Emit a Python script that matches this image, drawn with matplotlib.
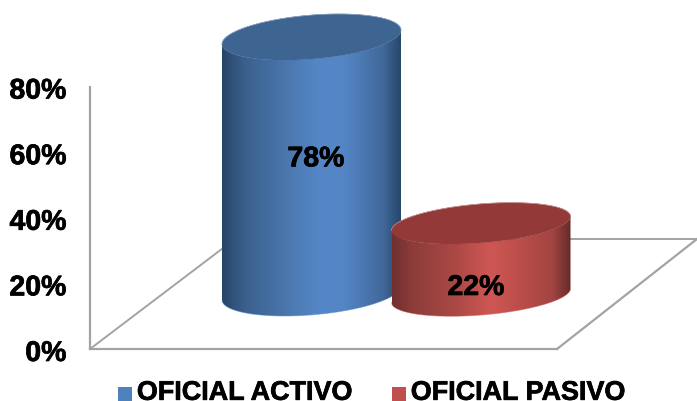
import numpy as np
import matplotlib
matplotlib.use('Agg')
import matplotlib.pyplot as plt
import matplotlib.patheffects as pe
from matplotlib.colors import LinearSegmentedColormap
from matplotlib.patches import Patch, PathPatch
from matplotlib.path import Path
from matplotlib.transforms import ScaledTranslation

plt.rcParams['font.family'] = ['Liberation Sans', 'DejaVu Sans']
plt.rcParams['font.weight'] = 'bold'

# chart values
categories = ['OFICIAL ACTIVO', 'OFICIAL PASIVO']
values = [78, 22]
value_labels = ['78%', '22%']
y_ticks = [0, 20, 40, 60, 80]
y_tick_labels = ['0%', '20%', '40%', '60%', '80%']

# layout, x is in pixels and y in percent
PX = 3.28  # pixels per percent
centers = [311.5, 481]
half_w = 89.5
bases = [17.1, 16.3]   # bottom of cylinder above the front edge
lift = 7.0 / PX        # tilt of the ellipse
depths = [22 / PX, 19.5 / PX]
label_x = [316, 476]
label_y = [57.8, 18.6]

legend_colors = ['#4f81bd', '#c0504d']
top_colors = ['#3e6491', '#933a38']
rim_colors = ['#8fa6c4', '#c49a98']
side_colors = [
    ['#264468', '#3a5f8c', '#4a76ac', '#5587c8', '#5486c6', '#41699b', '#27466b'],
    ['#6f302e', '#8e3d3a', '#aa4845', '#cf5753', '#bf504c', '#a14441', '#642b29'],
]
side_stops = [0.0, 0.12, 0.35, 0.55, 0.68, 0.9, 1.0]
axis_color = '#a3a3a3'
heavy = [pe.withStroke(linewidth=0.5, foreground='black')]


def ellipse(cx, cy, depth, start, stop, n=120):
    t = np.linspace(start, stop, n)
    return np.column_stack([cx + half_w * np.cos(t), cy + lift * np.cos(t) + depth * np.sin(t)])


def cylinder(ax, cx, base, value, depth, side, top, rim, z):
    x0, x1 = cx - half_w, cx + half_w
    # side wall, front arc of the bottom then back over the front arc of the top
    front_bottom = ellipse(cx, base, depth, np.pi, 2 * np.pi)
    front_top = ellipse(cx, base + value, depth, 2 * np.pi, np.pi)
    pts = np.vstack([front_bottom, front_top, front_bottom[:1]])
    clip = PathPatch(Path(pts), transform=ax.transData, fc='none', ec='none')
    ax.add_patch(clip)
    cmap = LinearSegmentedColormap.from_list('side', list(zip(side_stops, side)))
    grad = np.linspace(0, 1, 256).reshape(1, -1)
    im = ax.imshow(grad, cmap=cmap, aspect='auto', zorder=z,
                   extent=[x0, x1, base - 10, base + value + 10])
    im.set_clip_path(clip)
    # thin edge so the clipped gradient does not look jagged
    ax.plot(front_bottom[:, 0], front_bottom[:, 1], color=side[3], lw=0.6, alpha=0.5, zorder=z)
    lid = ellipse(cx, base + value, depth, 0, 2 * np.pi)
    ax.fill(lid[:, 0], lid[:, 1], fc=top, ec=top, lw=0.3, zorder=z + 0.1)
    # only the back of the lid catches the light
    back = ellipse(cx, base + value, depth, 0, np.pi)
    ax.plot(back[:, 0], back[:, 1], color=rim, lw=0.5, zorder=z + 0.2)


fig = plt.figure(figsize=(6.97, 4.02), dpi=100)
ax = fig.add_axes([0, 0, 1, 1])
ax.patch.set_alpha(0)

# floor, the part behind the cylinders
ax.plot([90, 235, 697], [0, 110 / PX, 110 / PX], color=axis_color, lw=1.4, zorder=1)
ax.plot([557, 697], [0, 110 / PX], color=axis_color, lw=1.6, zorder=1)

for i in range(len(values)):
    cylinder(ax, centers[i], bases[i], values[i], depths[i], side_colors[i], top_colors[i],
             rim_colors[i], 3 + i)
    ax.text(label_x[i], label_y[i], value_labels[i], fontsize=20.5, ha='center', va='center',
            color='black', zorder=10, path_effects=heavy)

ax.set_xlim(0, 697)
ax.set_ylim(-52 / PX, 350 / PX)

for s in ['top', 'right']:
    ax.spines[s].set_visible(False)
ax.spines['left'].set_position(('data', 90))
ax.spines['left'].set_bounds(0, 80)
ax.spines['bottom'].set_position(('data', 0))
ax.spines['bottom'].set_bounds(90, 557)
for s in ['left', 'bottom']:
    ax.spines[s].set_color(axis_color)
    ax.spines[s].set_linewidth(1.6)

ax.set_xticks([])
ax.set_yticks(y_ticks)
ax.set_yticklabels(y_tick_labels, fontsize=20.5, fontweight='bold', path_effects=heavy)
ax.tick_params(axis='y', length=0, pad=17)
# labels sit a little under their tick height
shift = ScaledTranslation(0, -2 / 100, fig.dpi_scale_trans)
for lab in ax.get_yticklabels():
    lab.set_transform(lab.get_transform() + shift)

handles = [Patch(fc=c, ec='none') for c in legend_colors]
leg = ax.legend(handles, categories, loc='lower left', bbox_to_anchor=(118 / 697, -0.012), ncol=2,
                frameon=False, fontsize=19.4, borderpad=0, borderaxespad=0, handlelength=0.53,
                handleheight=0.53, handletextpad=0.17, columnspacing=1.5)
for t in leg.get_texts():
    t.set_path_effects(heavy)
# the squares sit on the text baseline
for p in leg.get_patches():
    p.set_y(p.get_y() - 3.6)

fig.savefig('out.png', dpi=100)
